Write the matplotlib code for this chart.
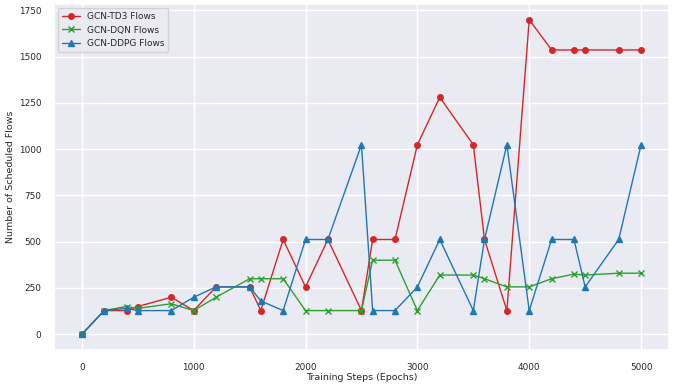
import numpy as np
import matplotlib
matplotlib.use('Agg')
import matplotlib.pyplot as plt
import seaborn as sns

steps = [0, 200, 400, 500, 800, 1000, 1200, 1500, 1600, 1800, 2000, 2200, 2500,
         2600, 2800, 3000, 3200, 3500, 3600, 3800, 4000, 4200, 4400, 4500, 4800, 5000]

td3_flows = [0, 128, 128, 150, 200, 128, 256, 256, 128, 512, 256, 512, 128,
             512, 512, 1024, 1280, 1024, 512, 128, 1700, 1536, 1536, 1536, 1536, 1536]
dqn_flows = [0, 128, 150, 140, 165, 128, 200, 300, 300, 300, 128, 128, 128,
             400, 400, 128, 320, 320, 300, 256, 256, 300, 325, 320, 330, 330]
ddpg_flows = [0, 128, 140, 128, 128, 200, 256, 256, 180, 128, 512, 512, 1024,
              128, 128, 256, 512, 128, 512, 1024, 128, 512, 512, 256, 512, 1024]

sns.set_theme(style='darkgrid')
plt.rcParams['font.family'] = ['DejaVu Sans']

fig, ax = plt.subplots(figsize=(6.82, 3.87), dpi=100)
fig.subplots_adjust(left=0.079, right=0.981, bottom=0.0956, top=0.99)

ax.plot(steps, td3_flows, marker='o', color='#d62728', lw=1, ms=4, label='GCN-TD3 Flows')
ax.plot(steps, dqn_flows, marker='x', color='#2ca02c', lw=1, ms=4, label='GCN-DQN Flows')
ax.plot(steps, ddpg_flows, marker='^', color='#1f77b4', lw=1, ms=4, label='GCN-DDPG Flows')

ax.set_xlabel('Training Steps (Epochs)', fontsize=6.8, labelpad=1)
ax.set_ylabel('Number of Scheduled Flows', fontsize=6.8, labelpad=3)
ax.tick_params(labelsize=6.4, pad=3)
ax.legend(loc='upper left', fontsize=6.5)

plt.savefig('out.png', dpi=100)
